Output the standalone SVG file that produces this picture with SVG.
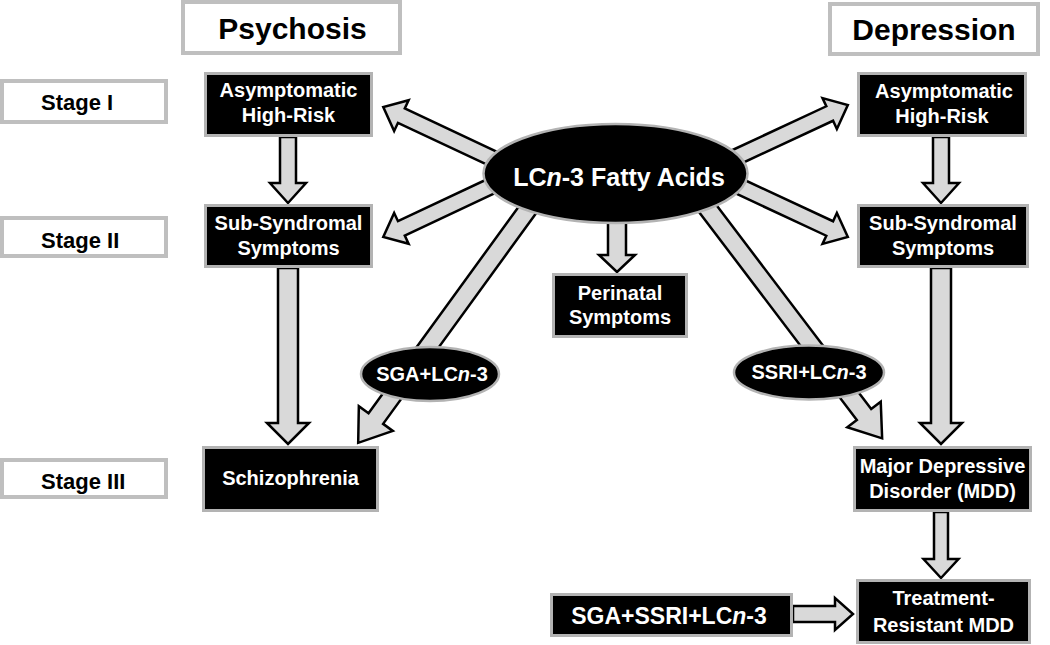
<svg xmlns="http://www.w3.org/2000/svg" width="1050" height="645" viewBox="0 0 1050 645">
<style>
.hdr{fill:#fff;stroke:#bfbfbf;stroke-width:4}
.box{fill:#000;stroke:#b3b3b3;stroke-width:3}
.ell{fill:#000;stroke:#b3b3b3;stroke-width:2.5}
.arr{fill:#d9d9d9;stroke:#000;stroke-width:2.5;stroke-linejoin:miter}
text{font-family:"Liberation Sans",Arial,sans-serif;font-weight:bold;text-anchor:middle}
.w{fill:#fff;font-size:20px}
.k{fill:#000}
.h{font-size:30px}
.st{font-size:22px;text-anchor:start}
.big{font-size:25px}
.mid{font-size:23px}
</style>
<rect width="1050" height="645" fill="#fff"/>
<g id="connectors">
<path class="arr" transform="translate(500,162) rotate(205.2)" d="M0,-8 L109,-8 L109,-17 L129,0 L109,17 L109,8 L0,8Z"/>
<path class="arr" transform="translate(500,182) rotate(154.8)" d="M0,-8 L109,-8 L109,-17 L129,0 L109,17 L109,8 L0,8Z"/>
<path class="arr" transform="translate(730,160) rotate(-25)" d="M0,-8 L110,-8 L110,-17 L130,0 L110,17 L110,8 L0,8Z"/>
<path class="arr" transform="translate(730,182) rotate(25)" d="M0,-8 L110,-8 L110,-17 L130,0 L110,17 L110,8 L0,8Z"/>
<path class="arr" transform="translate(531,205) rotate(126)" d="M0,-9 L264,-9 L264,-21 L294,0 L264,21 L264,9 L0,9Z"/>
<path class="arr" transform="translate(705,205) rotate(52.8)" d="M0,-9 L263,-9 L263,-21 L293,0 L263,21 L263,9 L0,9Z"/>
<path class="arr" d="M280,137 L280,183 L270,183 L288,203 L306,183 L296,183 L296,137Z"/>
<path class="arr" d="M278,268 L278,423 L267,423 L288,444 L309,423 L298,423 L298,268Z"/>
<path class="arr" d="M933,137 L933,183 L923,183 L941,203 L959,183 L949,183 L949,137Z"/>
<path class="arr" d="M931,268 L931,423 L920,423 L941,444 L962,423 L951,423 L951,268Z"/>
<path class="arr" d="M934,512 L934,559 L923.5,559 L941,578 L958.5,559 L948,559 L948,512Z"/>
<path class="arr" d="M608,220 L608,255 L599,255 L617,272 L635,255 L626,255 L626,220Z"/>
<path class="arr" d="M793,606 L835,606 L835,598 L853,614 L835,630 L835,622 L793,622Z"/>
</g>
<g id="hdr-psychosis"><rect class="hdr" x="183" y="2" width="217" height="51"/><text class="k h" x="292.5" y="39">Psychosis</text></g>
<g id="hdr-depression"><rect class="hdr" x="830" y="4" width="208" height="50"/><text class="k h" x="934" y="40">Depression</text></g>
<g id="stage1"><rect class="hdr" x="2" y="81" width="164" height="41"/><text class="k st" x="41" y="110">Stage I</text></g>
<g id="stage2"><rect class="hdr" x="2" y="218" width="164" height="38"/><text class="k st" x="41" y="248">Stage II</text></g>
<g id="stage3"><rect class="hdr" x="2" y="460" width="164" height="37"/><text class="k st" x="41" y="489">Stage III</text></g>
<g id="p-asym"><rect class="box" x="205.5" y="73.5" width="166" height="62"/><text class="w" x="288.5" y="97">Asymptomatic</text><text class="w" x="288.5" y="122">High-Risk</text></g>
<g id="p-sub"><rect class="box" x="205.5" y="205.5" width="166" height="61"/><text class="w" x="288.5" y="230">Sub-Syndromal</text><text class="w" x="288.5" y="255">Symptoms</text></g>
<g id="p-schizo"><rect class="box" x="203.5" y="447.5" width="174" height="63"/><text class="w" x="290.5" y="485">Schizophrenia</text></g>
<g id="d-asym"><rect class="box" x="858.5" y="73.5" width="167" height="62"/><text class="w" x="944" y="98">Asymptomatic</text><text class="w" x="942" y="123">High-Risk</text></g>
<g id="d-sub"><rect class="box" x="858.5" y="205.5" width="169" height="61"/><text class="w" x="943" y="230">Sub-Syndromal</text><text class="w" x="943" y="255">Symptoms</text></g>
<g id="perinatal"><rect class="box" x="553.5" y="274.5" width="133" height="62"/><text class="w" x="620" y="300">Perinatal</text><text class="w" x="620" y="324">Symptoms</text></g>
<g id="mdd"><rect class="box" x="854.5" y="447.5" width="176" height="63"/><text class="w" x="942.5" y="473">Major Depressive</text><text class="w" x="942.5" y="498">Disorder (MDD)</text></g>
<g id="trmdd"><rect class="box" x="857.5" y="580.5" width="172" height="62"/><text class="w" x="943.5" y="605">Treatment-</text><text class="w" x="943.5" y="632">Resistant MDD</text></g>
<g id="sga-ssri"><rect class="box" x="551.5" y="594.5" width="240" height="41"/><text class="w mid" x="669" y="624">SGA+SSRI+LC<tspan font-style="italic">n</tspan>-3</text></g>
<g id="lcn3"><ellipse class="ell" cx="615.5" cy="173.5" rx="132" ry="49.5"/><text class="w big" x="619" y="186">LC<tspan font-style="italic">n</tspan>-3 Fatty Acids</text></g>
<g id="sga-lcn3"><ellipse class="ell" cx="430" cy="374" rx="69" ry="27"/><text class="w" x="432" y="381">SGA+LC<tspan font-style="italic">n</tspan>-3</text></g>
<g id="ssri-lcn3"><ellipse class="ell" cx="809" cy="372.5" rx="75" ry="27"/><text class="w" x="809" y="379">SSRI+LC<tspan font-style="italic">n</tspan>-3</text></g>
</svg>
